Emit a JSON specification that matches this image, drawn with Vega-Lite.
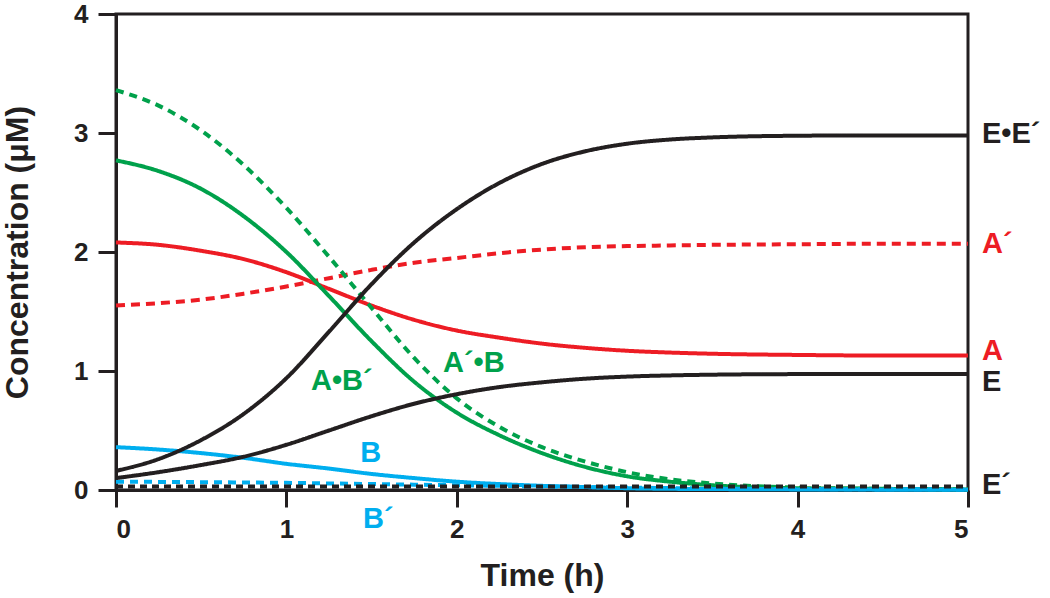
{
  "$schema": "https://vega.github.io/schema/vega-lite/v6.json",
  "width": 852,
  "height": 476,
  "autosize": "none",
  "padding": {"left": 116, "top": 14, "right": 82, "bottom": 108},
  "background": "white",
  "config": {
    "view": {"stroke": "#231f20", "strokeWidth": 3},
    "axis": {
      "grid": false,
      "domainColor": "#231f20",
      "domainWidth": 3,
      "tickColor": "#231f20",
      "tickWidth": 3,
      "labelFont": "Liberation Sans",
      "labelFontWeight": "bold",
      "labelFontSize": 26,
      "labelColor": "#231f20",
      "titleFont": "Liberation Sans",
      "titleFontWeight": "bold",
      "titleFontSize": 32,
      "titleColor": "#231f20"
    },
    "text": {"font": "Liberation Sans", "fontWeight": "bold", "fontSize": 29}
  },
  "layer": [
    {
      "data": {
        "values": [
          {"series": "A´", "time": 0, "conc": 1.55}, {"series": "A´", "time": 0.25, "conc": 1.57}, {"series": "A´", "time": 0.5, "conc": 1.6}, {"series": "A´", "time": 0.75, "conc": 1.65}, {"series": "A´", "time": 1, "conc": 1.71}, {"series": "A´", "time": 1.25, "conc": 1.78}, {"series": "A´", "time": 1.5, "conc": 1.85}, {"series": "A´", "time": 1.75, "conc": 1.91}, {"series": "A´", "time": 2, "conc": 1.95}, {"series": "A´", "time": 2.25, "conc": 1.99}, {"series": "A´", "time": 2.5, "conc": 2.02}, {"series": "A´", "time": 2.75, "conc": 2.04}, {"series": "A´", "time": 3, "conc": 2.05}, {"series": "A´", "time": 3.25, "conc": 2.055}, {"series": "A´", "time": 3.5, "conc": 2.06}, {"series": "A´", "time": 4, "conc": 2.065}, {"series": "A´", "time": 4.5, "conc": 2.07}, {"series": "A´", "time": 5, "conc": 2.07},
          {"series": "A", "time": 0, "conc": 2.08}, {"series": "A", "time": 0.25, "conc": 2.06}, {"series": "A", "time": 0.5, "conc": 2.01}, {"series": "A", "time": 0.75, "conc": 1.94}, {"series": "A", "time": 1, "conc": 1.83}, {"series": "A", "time": 1.25, "conc": 1.69}, {"series": "A", "time": 1.5, "conc": 1.55}, {"series": "A", "time": 1.75, "conc": 1.43}, {"series": "A", "time": 2, "conc": 1.34}, {"series": "A", "time": 2.25, "conc": 1.28}, {"series": "A", "time": 2.5, "conc": 1.23}, {"series": "A", "time": 2.75, "conc": 1.195}, {"series": "A", "time": 3, "conc": 1.17}, {"series": "A", "time": 3.25, "conc": 1.155}, {"series": "A", "time": 3.5, "conc": 1.145}, {"series": "A", "time": 4, "conc": 1.135}, {"series": "A", "time": 4.5, "conc": 1.13}, {"series": "A", "time": 5, "conc": 1.13},
          {"series": "A´•B", "time": 0, "conc": 3.36}, {"series": "A´•B", "time": 0.25, "conc": 3.23}, {"series": "A´•B", "time": 0.5, "conc": 3.02}, {"series": "A´•B", "time": 0.75, "conc": 2.73}, {"series": "A´•B", "time": 1, "conc": 2.37}, {"series": "A´•B", "time": 1.25, "conc": 1.96}, {"series": "A´•B", "time": 1.5, "conc": 1.53}, {"series": "A´•B", "time": 1.75, "conc": 1.11}, {"series": "A´•B", "time": 2, "conc": 0.77}, {"series": "A´•B", "time": 2.25, "conc": 0.53}, {"series": "A´•B", "time": 2.5, "conc": 0.36}, {"series": "A´•B", "time": 2.75, "conc": 0.24}, {"series": "A´•B", "time": 3, "conc": 0.15}, {"series": "A´•B", "time": 3.25, "conc": 0.09}, {"series": "A´•B", "time": 3.5, "conc": 0.055}, {"series": "A´•B", "time": 4, "conc": 0.02}, {"series": "A´•B", "time": 4.5, "conc": 0.01}, {"series": "A´•B", "time": 5, "conc": 0.005},
          {"series": "A•B´", "time": 0, "conc": 2.77}, {"series": "A•B´", "time": 0.25, "conc": 2.68}, {"series": "A•B´", "time": 0.5, "conc": 2.53}, {"series": "A•B´", "time": 0.75, "conc": 2.3}, {"series": "A•B´", "time": 1, "conc": 2.0}, {"series": "A•B´", "time": 1.25, "conc": 1.63}, {"series": "A•B´", "time": 1.5, "conc": 1.25}, {"series": "A•B´", "time": 1.75, "conc": 0.91}, {"series": "A•B´", "time": 2, "conc": 0.65}, {"series": "A•B´", "time": 2.25, "conc": 0.46}, {"series": "A•B´", "time": 2.5, "conc": 0.31}, {"series": "A•B´", "time": 2.75, "conc": 0.195}, {"series": "A•B´", "time": 3, "conc": 0.115}, {"series": "A•B´", "time": 3.25, "conc": 0.07}, {"series": "A•B´", "time": 3.5, "conc": 0.04}, {"series": "A•B´", "time": 4, "conc": 0.015}, {"series": "A•B´", "time": 4.5, "conc": 0.01}, {"series": "A•B´", "time": 5, "conc": 0.005},
          {"series": "B´", "time": 0, "conc": 0.07}, {"series": "B´", "time": 0.25, "conc": 0.068}, {"series": "B´", "time": 0.5, "conc": 0.066}, {"series": "B´", "time": 0.75, "conc": 0.063}, {"series": "B´", "time": 1, "conc": 0.06}, {"series": "B´", "time": 1.25, "conc": 0.055}, {"series": "B´", "time": 1.5, "conc": 0.05}, {"series": "B´", "time": 1.75, "conc": 0.045}, {"series": "B´", "time": 2, "conc": 0.04}, {"series": "B´", "time": 2.25, "conc": 0.035}, {"series": "B´", "time": 2.5, "conc": 0.03}, {"series": "B´", "time": 2.75, "conc": 0.025}, {"series": "B´", "time": 3, "conc": 0.02}, {"series": "B´", "time": 3.25, "conc": 0.016}, {"series": "B´", "time": 3.5, "conc": 0.012}, {"series": "B´", "time": 4, "conc": 0.008}, {"series": "B´", "time": 4.5, "conc": 0.006}, {"series": "B´", "time": 5, "conc": 0.005},
          {"series": "B", "time": 0, "conc": 0.36}, {"series": "B", "time": 0.25, "conc": 0.34}, {"series": "B", "time": 0.5, "conc": 0.31}, {"series": "B", "time": 0.75, "conc": 0.27}, {"series": "B", "time": 1, "conc": 0.22}, {"series": "B", "time": 1.25, "conc": 0.18}, {"series": "B", "time": 1.5, "conc": 0.135}, {"series": "B", "time": 1.75, "conc": 0.1}, {"series": "B", "time": 2, "conc": 0.07}, {"series": "B", "time": 2.25, "conc": 0.05}, {"series": "B", "time": 2.5, "conc": 0.035}, {"series": "B", "time": 2.75, "conc": 0.025}, {"series": "B", "time": 3, "conc": 0.015}, {"series": "B", "time": 3.25, "conc": 0.01}, {"series": "B", "time": 3.5, "conc": 0.008}, {"series": "B", "time": 4, "conc": 0.005}, {"series": "B", "time": 4.5, "conc": 0.003}, {"series": "B", "time": 5, "conc": 0.002},
          {"series": "E´", "time": 0, "conc": 0.03}, {"series": "E´", "time": 0.5, "conc": 0.03}, {"series": "E´", "time": 1, "conc": 0.03}, {"series": "E´", "time": 1.5, "conc": 0.03}, {"series": "E´", "time": 2, "conc": 0.03}, {"series": "E´", "time": 2.5, "conc": 0.03}, {"series": "E´", "time": 3, "conc": 0.03}, {"series": "E´", "time": 3.5, "conc": 0.03}, {"series": "E´", "time": 4, "conc": 0.03}, {"series": "E´", "time": 4.5, "conc": 0.03}, {"series": "E´", "time": 5, "conc": 0.03},
          {"series": "E", "time": 0, "conc": 0.1}, {"series": "E", "time": 0.25, "conc": 0.15}, {"series": "E", "time": 0.5, "conc": 0.21}, {"series": "E", "time": 0.75, "conc": 0.28}, {"series": "E", "time": 1, "conc": 0.38}, {"series": "E", "time": 1.25, "conc": 0.5}, {"series": "E", "time": 1.5, "conc": 0.62}, {"series": "E", "time": 1.75, "conc": 0.725}, {"series": "E", "time": 2, "conc": 0.805}, {"series": "E", "time": 2.25, "conc": 0.865}, {"series": "E", "time": 2.5, "conc": 0.905}, {"series": "E", "time": 2.75, "conc": 0.935}, {"series": "E", "time": 3, "conc": 0.953}, {"series": "E", "time": 3.25, "conc": 0.963}, {"series": "E", "time": 3.5, "conc": 0.969}, {"series": "E", "time": 4, "conc": 0.974}, {"series": "E", "time": 4.5, "conc": 0.975}, {"series": "E", "time": 5, "conc": 0.975},
          {"series": "E•E´", "time": 0, "conc": 0.16}, {"series": "E•E´", "time": 0.25, "conc": 0.26}, {"series": "E•E´", "time": 0.5, "conc": 0.42}, {"series": "E•E´", "time": 0.75, "conc": 0.64}, {"series": "E•E´", "time": 1, "conc": 0.94}, {"series": "E•E´", "time": 1.25, "conc": 1.33}, {"series": "E•E´", "time": 1.5, "conc": 1.73}, {"series": "E•E´", "time": 1.75, "conc": 2.08}, {"series": "E•E´", "time": 2, "conc": 2.36}, {"series": "E•E´", "time": 2.25, "conc": 2.58}, {"series": "E•E´", "time": 2.5, "conc": 2.74}, {"series": "E•E´", "time": 2.75, "conc": 2.845}, {"series": "E•E´", "time": 3, "conc": 2.91}, {"series": "E•E´", "time": 3.25, "conc": 2.945}, {"series": "E•E´", "time": 3.5, "conc": 2.963}, {"series": "E•E´", "time": 4, "conc": 2.977}, {"series": "E•E´", "time": 4.5, "conc": 2.98}, {"series": "E•E´", "time": 5, "conc": 2.98}
        ]
      },
      "mark": {"type": "line", "strokeWidth": 4, "interpolate": "monotone", "strokeCap": "butt"},
      "encoding": {
        "x": {"field": "time", "type": "quantitative", "scale": {"domain": [0, 5], "nice": false},
              "axis": {"title": "Time (h)", "values": [0, 1, 2, 3, 4, 5], "format": "d", "tickSize": 17, "labelPadding": 9, "titlePadding": 18}},
        "y": {"field": "conc", "type": "quantitative", "scale": {"domain": [0, 4], "nice": false},
              "axis": {"title": "Concentration (μM)", "values": [0, 1, 2, 3, 4], "format": "d", "tickSize": 18, "labelPadding": 10, "titlePadding": 39}},
        "color": {"field": "series", "type": "nominal", "legend": null,
                  "scale": {"domain": ["A´", "A", "A´•B", "A•B´", "B´", "B", "E´", "E", "E•E´"],
                            "range": ["#ed1c24", "#ed1c24", "#00a14b", "#00a14b", "#00aeef", "#00aeef", "#231f20", "#231f20", "#231f20"]}},
        "strokeDash": {"field": "series", "type": "nominal", "legend": null,
                  "scale": {"domain": ["A´", "A", "A´•B", "A•B´", "B´", "B", "E´", "E", "E•E´"],
                            "range": [[9, 6], [1, 0], [8, 6], [1, 0], [8, 6], [1, 0], [7, 5], [1, 0], [1, 0]]}},
        "order": {"field": "time", "type": "quantitative"}
      }
    },
    {
      "data": {
        "values": [
          {"series": "E•E´", "time": 5, "conc": 2.99},
          {"series": "A´", "time": 5, "conc": 2.07},
          {"series": "A", "time": 5, "conc": 1.17},
          {"series": "E", "time": 5, "conc": 0.91},
          {"series": "E´", "time": 5, "conc": 0.04}
        ]
      },
      "mark": {"type": "text", "align": "left", "baseline": "middle", "dx": 14},
      "encoding": {
        "x": {"field": "time", "type": "quantitative"},
        "y": {"field": "conc", "type": "quantitative"},
        "text": {"field": "series"},
        "color": {"field": "series", "type": "nominal", "legend": null}
      }
    },
    {
      "data": {
        "values": [
          {"series": "A•B´", "time": 1.325, "conc": 0.92},
          {"series": "A´•B", "time": 2.1, "conc": 1.065},
          {"series": "B", "time": 1.495, "conc": 0.31},
          {"series": "B´", "time": 1.54, "conc": -0.24}
        ]
      },
      "mark": {"type": "text", "align": "center", "baseline": "middle"},
      "encoding": {
        "x": {"field": "time", "type": "quantitative"},
        "y": {"field": "conc", "type": "quantitative"},
        "text": {"field": "series"},
        "color": {"field": "series", "type": "nominal", "legend": null}
      }
    }
  ]
}
